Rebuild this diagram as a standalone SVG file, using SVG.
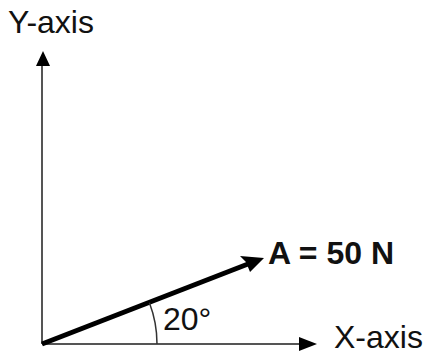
<svg xmlns="http://www.w3.org/2000/svg" width="427" height="354" viewBox="0 0 427 354">
<style>
text{font-family:"Liberation Sans",Arial,sans-serif;font-size:32px;fill:#111}
.axis{stroke:#555;stroke-width:2;fill:none}
.bold{font-weight:bold}
</style>
<rect width="427" height="354" fill="#fff"/>
<g id="connectors">
<line class="axis" x1="42" y1="344" x2="42" y2="62"/>
<polygon points="43,51 36,66 50,66" fill="#000"/>
<line class="axis" x1="42" y1="344" x2="303" y2="344"/>
<polygon points="317,344 299,337 299,351" fill="#000"/>
<line x1="42" y1="344" x2="248" y2="264" stroke="#000" stroke-width="5"/>
<polygon points="264,258 240,256 246,262 250,272" fill="#000"/>
<path d="M157,344 A115,115 0 0 0 149.4,302.8" fill="none" stroke="#333" stroke-width="1.5"/>
</g>
<g id="y-label"><text x="8" y="33">Y-axis</text></g>
<g id="x-label"><text x="334" y="348">X-axis</text></g>
<g id="vector-label"><text class="bold" x="268" y="264">A = 50 N</text></g>
<g id="angle-label"><text x="163" y="330">20°</text></g>
</svg>
